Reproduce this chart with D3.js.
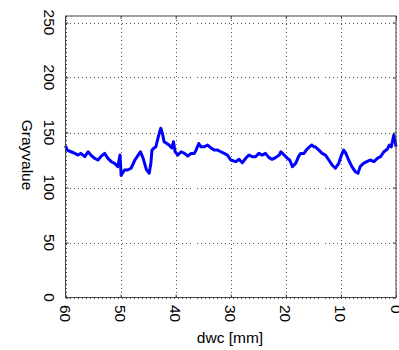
<!DOCTYPE html>
<html>
<head>
<meta charset="utf-8">
<script src="https://cdn.jsdelivr.net/npm/d3@7"></script>
<style>
  html, body { margin: 0; padding: 0; background: #fff; }
  svg { display: block; }
  text { font-family: "Liberation Sans", Arial, sans-serif; fill: #000; }
</style>
</head>
<body>
<svg id="chart" width="399" height="350"></svg>
<script>
// ---- data ----
const dwc = [60.0, 59.7, 59.0, 58.3, 57.7, 57.2, 56.5, 55.9, 55.4, 54.7, 54.1, 53.6, 52.9, 52.3, 51.7, 51.1, 50.5, 50.1, 49.9, 49.3, 48.7, 48.1, 47.4, 46.8, 46.4, 45.9, 45.3, 44.8, 44.5, 44.3, 43.9, 43.6, 43.3, 43.0, 42.7, 42.4, 42.1, 41.6, 41.2, 40.7, 40.4, 40.1, 39.6, 39.0, 38.4, 37.8, 37.2, 36.6, 36.3, 35.8, 35.4, 34.8, 34.2, 33.6, 33.0, 32.4, 31.8, 31.2, 30.6, 30.0, 29.1, 28.5, 27.9, 27.3, 26.7, 26.1, 25.5, 24.9, 24.3, 23.7, 23.1, 22.5, 21.8, 21.2, 20.9, 20.3, 19.7, 19.3, 18.8, 18.2, 17.7, 17.3, 16.7, 16.3, 15.7, 15.3, 14.9, 14.65, 14.0, 13.4, 12.8, 12.2, 11.6, 11.0, 10.4, 9.9, 9.5, 9.1, 8.6, 8.0, 7.4, 6.9, 6.5, 5.9, 5.3, 4.7, 4.0, 3.4, 2.8, 2.2, 1.6, 1.2, 0.85, 0.4, 0.2, 0.0];
const grayvalue = [138, 134, 132.5, 131, 129.5, 131, 128, 132.5, 129.5, 126.5, 125, 128, 131, 126.5, 123.5, 122, 119, 129.5, 111, 116, 116, 117.5, 125, 129.5, 132.5, 126.5, 116, 113, 122, 134, 136, 137, 143, 149, 153.8, 149, 141.6, 140, 138.6, 136, 141.6, 132.5, 129.5, 132.5, 131, 128.6, 131, 131, 134, 140, 137, 137, 138.6, 136, 134, 134, 132.5, 131, 129.5, 125, 123.5, 125.6, 122.5, 126.5, 129.5, 128, 128, 131, 129.5, 131, 127.4, 125.6, 127.4, 129.5, 132.5, 129.5, 126.5, 125, 119, 122, 128, 131, 131, 134, 137, 138.6, 137, 137, 134, 131, 129.5, 125, 120.5, 117.5, 122, 129.5, 134, 131, 125, 119, 114.4, 113, 119, 122, 123.5, 125, 123.5, 126.5, 128, 132.5, 134.7, 138.6, 137, 147.7, 143, 137];
const xTicks = [60, 50, 40, 30, 20, 10, 0];
const yTicks = [0, 50, 100, 150, 200, 250];
const xLabel = "dwc [mm]";
const yLabel = "Grayvalue";

// ---- layout ----
const svg = d3.select("#chart");
const pLeft = 65.5, pRight = 396, pTop = 16;
const x = d3.scaleLinear().domain([60, 0]).range([pLeft, pRight]);
const y = d3.scaleLinear().domain([0, 250]).range([297.5, 22.5]);
const pBottom = y(0);

// grid
const grid = svg.append("g").attr("stroke", "#555").attr("stroke-width", 1)
  .attr("stroke-dasharray", "1,3").attr("shape-rendering", "crispEdges");
grid.selectAll("line.v").data(xTicks).join("line").attr("class", "v")
  .attr("x1", d => Math.round(x(d)) + 0.5).attr("x2", d => Math.round(x(d)) + 0.5)
  .attr("y1", pTop).attr("y2", pBottom);
grid.selectAll("line.h").data(yTicks).join("line").attr("class", "h")
  .attr("y1", d => Math.round(y(d)) + 0.5).attr("y2", d => Math.round(y(d)) + 0.5)
  .attr("x1", pLeft).attr("x2", pRight);

// data line
const line = d3.line().x((d, i) => x(dwc[i])).y(d => y(d));
svg.append("path").datum(grayvalue)
  .attr("d", line)
  .attr("fill", "none").attr("stroke", "#0000ff").attr("stroke-width", 3)
  .attr("stroke-linejoin", "round");

// box
svg.append("rect").attr("x", pLeft).attr("y", pTop)
  .attr("width", pRight - pLeft).attr("height", pBottom - pTop)
  .attr("fill", "none").attr("stroke", "#444").attr("stroke-width", 1);

// axes with inward ticks
const axB = d3.axisBottom(x).tickValues(xTicks).tickSize(-3).tickFormat("");
const axT = d3.axisTop(x).tickValues(xTicks).tickSize(-3).tickFormat("");
const axL = d3.axisLeft(y).tickValues(yTicks).tickSize(-3).tickFormat("");
const axR = d3.axisRight(y).tickValues(yTicks).tickSize(-3).tickFormat("");
[[axB, `translate(0,${pBottom})`], [axT, `translate(0,${pTop})`],
 [axL, `translate(${pLeft},0)`], [axR, `translate(${pRight},0)`]].forEach(([ax, tr]) => {
  const g = svg.append("g").attr("transform", tr).call(ax);
  g.select(".domain").remove();
  g.selectAll("line").attr("stroke", "#444");
});

// tick labels (rotated 90°)
svg.append("g").selectAll("text").data(xTicks).join("text")
  .attr("transform", d => `translate(${x(d)},305) rotate(90)`)
  .attr("dy", "0.35em").attr("text-anchor", "start")
  .attr("font-size", 15.5).text(d => d);
svg.append("g").selectAll("text").data(yTicks).join("text")
  .attr("transform", d => `translate(49,${y(d)}) rotate(90)`)
  .attr("dy", "0.35em").attr("text-anchor", "middle")
  .attr("font-size", 15.5).text(d => d);

// axis titles
svg.append("text").attr("transform", "translate(27,155) rotate(90)")
  .attr("dy", "0.35em").attr("text-anchor", "middle").attr("font-size", 15.5).text(yLabel);
svg.append("text").attr("x", 230).attr("y", 343)
  .attr("text-anchor", "middle").attr("font-size", 15.5).text(xLabel);
</script>
</body>
</html>
